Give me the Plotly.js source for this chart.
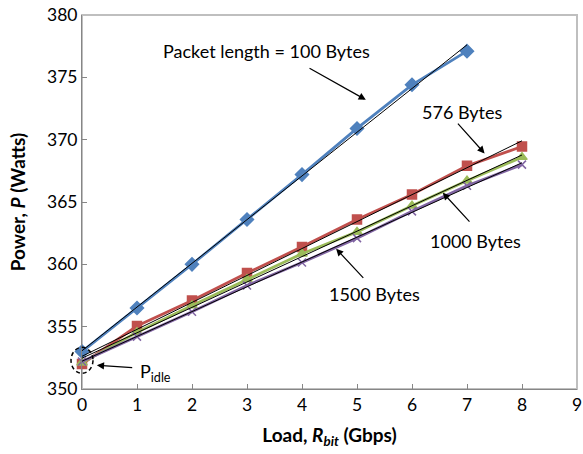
<!DOCTYPE html>
<html><head><meta charset="utf-8">
<script src="https://cdn.plot.ly/plotly-3.0.1.min.js"></script>
<style>body{margin:0;background:#fff}#chart{width:583px;height:454px}</style>
</head><body><div id="chart"></div>
<script>
const load100 = [0,1,2,3,4,5,6,7];
const power100 = [353.0,356.5,360.0,363.6,367.2,370.9,374.4,377.1];
const load = [0,1,2,3,4,5,6,7,8];
const power576 = [352.0,355.05,357.1,359.3,361.4,363.6,365.6,367.9,369.45];
const power1000 = [352.1,354.55,356.7,358.8,360.85,362.6,364.7,366.7,368.6];
const power1500 = [352.2,354.2,356.2,358.3,360.15,362.1,364.25,366.3,368.0];
const seriesNames = ['100 Bytes','576 Bytes','1000 Bytes','1500 Bytes'];
const xTicks = [0,1,2,3,4,5,6,7,8,9];
const yTicks = [350,355,360,365,370,375,380];

function fit(xs, ys){
  const n = xs.length;
  const mx = xs.reduce((a,b)=>a+b,0)/n, my = ys.reduce((a,b)=>a+b,0)/n;
  let sxy=0,sxx=0;
  for(let i=0;i<n;i++){sxy+=(xs[i]-mx)*(ys[i]-my);sxx+=(xs[i]-mx)**2;}
  const m = sxy/sxx, b = my-m*mx;
  const x0 = xs[0], x1 = xs[n-1];
  return {x:[x0,x1], y:[b+m*x0, b+m*x1]};
}

const styles = [
  {color:'#4F81BD', symbol:'diamond', size:10},
  {color:'#C0504D', symbol:'square', size:9},
  {color:'#9BBB59', symbol:'triangle-up', size:9},
  {color:'#8064A2', symbol:'x-thin-open', size:8}
];
const data = [[load100,power100],[load,power576],[load,power1000],[load,power1500]];
const traces = [];
data.forEach((d,i)=>{
  const s = styles[i];
  traces.push({x:d[0], y:d[1], name:seriesNames[i], mode:'lines+markers', type:'scatter',
    line:{color:s.color, width:2.8}, cliponaxis:false,
    marker:{symbol:s.symbol, size:s.size, color:s.color, line:{color:s.color, width:1.5}}});
});
data.forEach((d,i)=>{
  const f = fit(d[0], d[1]);
  traces.push({x:f.x, y:f.y, mode:'lines', type:'scatter', showlegend:false,
    line:{color:'#000', width:1}, hoverinfo:'skip'});
});

const F = 'Lato, "Open Sans", sans-serif';
const TF = {family:F, size:18, color:'#000'};
const arrow = (x, y, ax, ay) => ({text:'', xref:'x', yref:'y', x, y, ax, ay, axref:'x', ayref:'y',
  showarrow:true, arrowhead:2, arrowsize:1.2, arrowwidth:1.2, arrowcolor:'#000'});
const label = (text, x, y) => ({text, xref:'x', yref:'y', x, y, showarrow:false, font:TF});

const W = 583, H = 454, M = {l:82, r:6, t:15, b:65};
const pw = W - M.l - M.r, ph = H - M.t - M.b;
const rx = 11/pw, ry = 13/ph, cy = (352.3-350)/30;

const layout = {
  width:W, height:H,
  margin:M,
  paper_bgcolor:'#fff', plot_bgcolor:'#fff',
  showlegend:false,
  font:{family:F, size:17, color:'#000'},
  xaxis:{range:[0,9], tickvals:xTicks, ticks:'inside', ticklen:5, tickcolor:'#868686',
    showline:true, linecolor:'#868686', linewidth:1, showgrid:false, zeroline:false,
    tickfont:{family:F, size:17.5},
    title:{text:'<b>Load, <i>R</i><sub><i>bit</i></sub> (Gbps)</b>', font:{family:F, size:19}, standoff:14}},
  yaxis:{range:[350,380], tickvals:yTicks, ticks:'inside', ticklen:5, tickcolor:'#868686',
    showline:true, linecolor:'#868686', linewidth:1, showgrid:false, zeroline:false,
    tickfont:{family:F, size:17.5},
    title:{text:'<b>Power, <i>P</i> (Watts)</b>', font:{family:F, size:19}, standoff:16}},
  shapes:[
    {type:'rect', xref:'paper', yref:'paper', x0:0, x1:1, y0:0, y1:1, line:{color:'#BFBFBF', width:2}, layer:'below'},
    {type:'circle', xref:'paper', yref:'paper', layer:'above',
     x0:-rx, x1:rx, y0:cy-ry, y1:cy+ry, fillcolor:'rgba(0,0,0,0)', line:{color:'#000', width:1.5, dash:'4px,3px'}}
  ],
  annotations:[
    label('Packet length = 100 Bytes', 3.35, 377.1),
    arrow(5.16, 373.2, 4.11, 375.8),
    label('576 Bytes', 6.92, 372.2),
    arrow(7.32, 368.9, 6.81, 371.4),
    label('1000 Bytes', 7.16, 361.9),
    arrow(6.56, 365.75, 7.07, 363.3),
    label('1500 Bytes', 5.31, 357.6),
    arrow(4.62, 361.25, 5.14, 358.8),
    label('P<sub>idle</sub>', 1.34, 351.3),
    arrow(0.27, 351.9, 0.94, 351.7)
  ]
};
Plotly.newPlot('chart', traces, layout, {displayModeBar:false, staticPlot:true});
</script></body></html>
